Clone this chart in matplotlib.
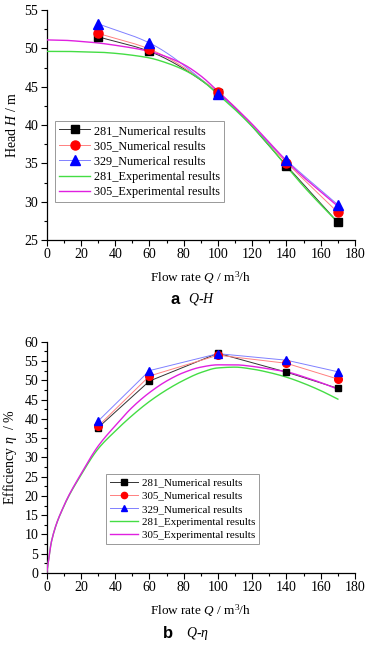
import numpy as np
import matplotlib
matplotlib.use("Agg")
import matplotlib.pyplot as plt
from matplotlib.ticker import MultipleLocator

plt.rcParams['font.family'] = ['Liberation Serif', 'DejaVu Serif']
plt.rcParams['mathtext.fontset'] = 'custom'
plt.rcParams['mathtext.rm'] = 'Liberation Serif'
plt.rcParams['mathtext.it'] = 'Liberation Serif:italic'
plt.rcParams['mathtext.bf'] = 'Liberation Serif:bold'

# ---- data ----
q_num = [30, 60, 100, 140, 170]
head_281 = [51.5, 49.6, 44.2, 34.7, 27.3]
head_305 = [51.95, 49.9, 44.3, 35.1, 28.6]
head_329 = [53.2, 50.7, 44.1, 35.4, 29.6]

q_exp = [0, 10, 20, 30, 40, 50, 60, 70, 80, 90, 100, 110, 120, 130, 140, 150, 160, 170]
head_exp_281 = [49.6, 49.6, 49.55, 49.5, 49.35, 49.1, 48.75, 48.1, 47.2, 45.9, 44.0, 42.0, 39.8, 37.3, 34.6, 32.0, 29.6, 27.3]
head_exp_305 = [51.1, 51.05, 50.9, 50.7, 50.4, 50.05, 49.6, 48.9, 47.9, 46.4, 44.4, 42.3, 40.1, 37.7, 35.3, 33.2, 31.3, 29.4]

eff_281 = [37.7, 49.8, 57.0, 52.1, 47.9]
eff_305 = [38.1, 51.1, 56.5, 54.4, 50.3]
eff_329 = [39.4, 52.5, 56.9, 55.2, 52.2]

q_eff_exp = [0, 3, 10, 20, 30, 40, 50, 60, 70, 80, 90, 100, 110, 120, 130, 140, 150, 160, 170]
eff_exp_281 = [0, 8.6, 17.3, 25.4, 32.2, 36.8, 40.9, 44.5, 47.5, 50.0, 52.0, 53.2, 53.4, 52.9, 52.0, 50.8, 49.2, 47.3, 45.1]
eff_exp_305 = [0, 8.6, 17.4, 25.7, 32.9, 38.2, 43.0, 46.8, 49.8, 52.0, 53.4, 54.0, 54.0, 53.6, 52.9, 52.2, 50.9, 49.4, 47.7]

labels = ['281_Numerical results', '305_Numerical results', '329_Numerical results',
          '281_Experimental results', '305_Experimental results']

fig = plt.figure(figsize=(3.71, 6.46), dpi=100)
W, H = 371, 646
ax1 = fig.add_axes([46.7 / W, 1 - 240 / H, 308.3 / W, 230 / H])
ax2 = fig.add_axes([46.7 / W, 1 - 573 / H, 308.3 / W, 231.3 / H])


def pchip(x, y, n=300):
    """Monotone cubic (Fritsch-Carlson) curve through the given points, for drawing."""
    x = np.asarray(x, float)
    y = np.asarray(y, float)
    h = np.diff(x)
    d = np.diff(y) / h
    m = np.zeros_like(y)
    for k in range(1, len(x) - 1):
        if d[k - 1] * d[k] <= 0:
            m[k] = 0
        else:
            w1 = 2 * h[k] + h[k - 1]
            w2 = h[k] + 2 * h[k - 1]
            m[k] = (w1 + w2) / (w1 / d[k - 1] + w2 / d[k])
    m[0] = d[0]
    m[-1] = d[-1]
    xs = np.linspace(x[0], x[-1], n)
    idx = np.clip(np.searchsorted(x, xs) - 1, 0, len(x) - 2)
    t = (xs - x[idx]) / h[idx]
    h00 = 2 * t**3 - 3 * t**2 + 1
    h10 = t**3 - 2 * t**2 + t
    h01 = -2 * t**3 + 3 * t**2
    h11 = t**3 - t**2
    ys = h00 * y[idx] + h10 * h[idx] * m[idx] + h01 * y[idx + 1] + h11 * h[idx] * m[idx + 1]
    return xs, ys


def style(ax):
    for s in ['top', 'right']:
        ax.spines[s].set_visible(False)
    for s in ['left', 'bottom']:
        ax.spines[s].set_linewidth(0.9)
    ax.tick_params(which='major', direction='out', length=4, width=0.8, labelsize=10, pad=2)
    ax.tick_params(which='minor', direction='out', length=2.5, width=0.8)
    ax.xaxis.set_major_locator(MultipleLocator(20))
    ax.xaxis.set_minor_locator(MultipleLocator(10))
    ax.yaxis.set_major_locator(MultipleLocator(5))
    ax.yaxis.set_minor_locator(MultipleLocator(2.5))
    ax.set_xlim(0, 180)


# ---- Q-H ----
line_cols = ['#333333', '#ff8080', '#8080ff']
mk_cols = ['black', 'red', 'blue']
mks = ['s', 'o', '^']
mss = [5.5, 6.5, 7]
for vals, lc, mc, m, ms, lab in zip([head_281, head_305, head_329], line_cols, mk_cols, mks, mss, labels[:3]):
    xs, ys = pchip(q_num, vals)
    ax1.plot(xs, ys, color=lc, lw=0.7, zorder=2)
    ax1.plot(q_num, vals, ls='none', marker=m, color=mc, ms=ms, zorder=4)
    ax1.plot([], [], color=lc, lw=0.7, marker=m, mfc=mc, mec=mc, ms=ms, label=lab)
xs, ys = pchip(q_exp, head_exp_281)
ax1.plot(xs, ys, color='#44dd44', lw=1.0, label=labels[3], zorder=3)
xs, ys = pchip(q_exp, head_exp_305)
ax1.plot(xs, ys, color='#e020e0', lw=1.0, label=labels[4], zorder=3)
style(ax1)
ax1.set_ylim(25, 55)
ax1.set_ylabel('Head $H$ / m', fontsize=10, labelpad=4)
ax1.set_xlabel('Flow rate $Q$ / m$^3$/h', fontsize=9.5, labelpad=6)
leg1 = ax1.legend(loc='upper left', bbox_to_anchor=(0.027, 0.517), fontsize=8.8, frameon=True,
                  fancybox=False, edgecolor='#999999', framealpha=1, handlelength=2.6,
                  handletextpad=0.3, borderpad=0.3, labelspacing=0.28, borderaxespad=0)
leg1.get_frame().set_linewidth(0.7)

# ---- Q-eta ----
for vals, lc, mc, m, ms, lab in zip([eff_281, eff_305, eff_329], line_cols, mk_cols, mks, [5, 5.5, 6], labels[:3]):
    ax2.plot(q_num, vals, color=lc, lw=0.7, zorder=2)
    ax2.plot(q_num, vals, ls='none', marker=m, color=mc, ms=ms, zorder=4)
    ax2.plot([], [], color=lc, lw=0.7, marker=m, mfc=mc, mec=mc, ms=ms - 1, label=lab)
xs, ys = pchip(q_eff_exp, eff_exp_281)
ax2.plot(xs, ys, color='#44dd44', lw=1.0, label=labels[3], zorder=3)
xs, ys = pchip(q_eff_exp, eff_exp_305)
ax2.plot(xs, ys, color='#e020e0', lw=1.0, label=labels[4], zorder=3)
style(ax2)
ax2.set_ylim(0, 60)
ax2.set_ylabel('Efficiency $\\eta$  / %', fontsize=10, labelpad=4)
ax2.set_xlabel('Flow rate $Q$ / m$^3$/h', fontsize=9.5, labelpad=6)
leg2 = ax2.legend(loc='upper left', bbox_to_anchor=(0.192, 0.428), fontsize=7.9, frameon=True,
                  fancybox=False, edgecolor='#999999', framealpha=1, handlelength=2.6,
                  handletextpad=0.3, borderpad=0.35, labelspacing=0.32, borderaxespad=0)
leg2.get_frame().set_linewidth(0.7)

# captions
fig.text(175 / W, 1 - 299 / H, 'a', fontsize=12, fontweight='bold', family='Liberation Sans',
         ha='center', va='center')
fig.text(188 / W, 1 - 299 / H, '$Q$-$H$', fontsize=10, ha='left', va='center')
fig.text(168 / W, 1 - 634 / H, 'b', fontsize=12, fontweight='bold', family='Liberation Sans',
         ha='center', va='center')
fig.text(186 / W, 1 - 634 / H, '$Q$-$\\eta$', fontsize=10, ha='left', va='center')

fig.savefig('out.png', dpi=100)
